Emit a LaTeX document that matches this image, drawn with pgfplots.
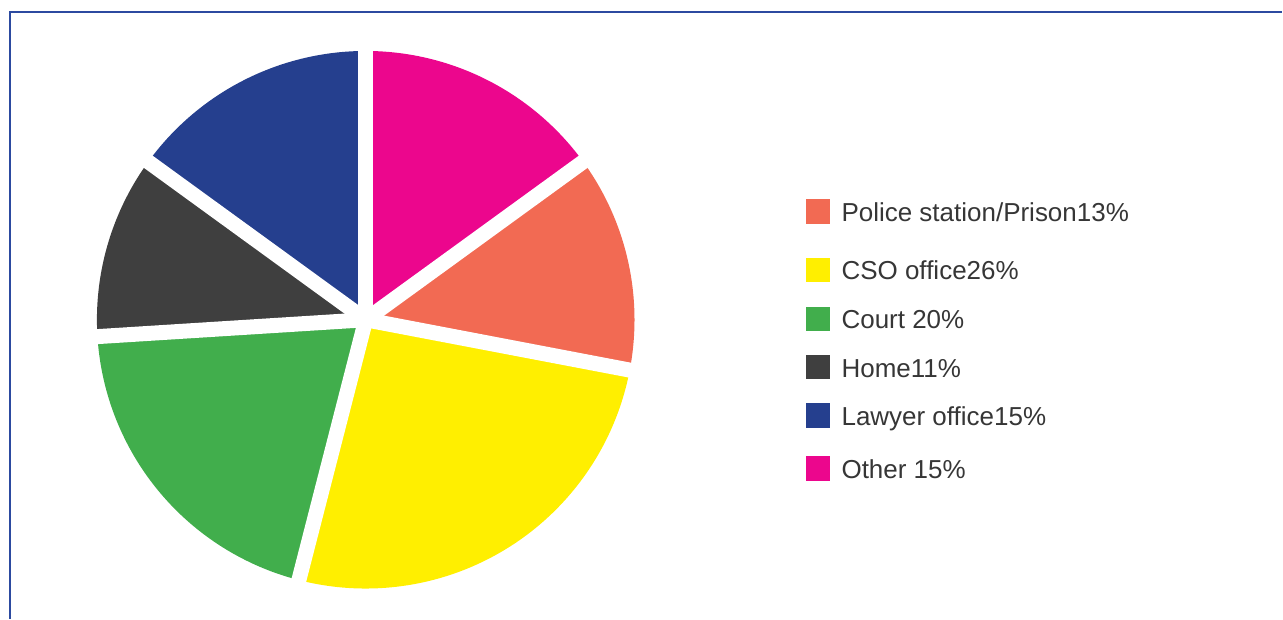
\documentclass[border=0pt]{standalone}
\usepackage{pgfplots}
\pgfplotsset{compat=1.18}
\usepackage{pgfplotstable}
\usepackage{fontspec}
\setmainfont{Liberation Sans}
\definecolor{col0}{HTML}{F26A53}
\definecolor{col1}{HTML}{FFEF00}
\definecolor{col2}{HTML}{41AE4C}
\definecolor{col3}{HTML}{3F3F3F}
\definecolor{col4}{HTML}{253F8E}
\definecolor{col5}{HTML}{EC068D}
\definecolor{bordercol}{HTML}{2C4AA0}
\definecolor{textgray}{HTML}{363636}
\pgfplotstableread{
value
13
26
20
11
15
15
}\piedata
\def\cum{0}%
\pgfplotsforeachungrouped \i in {0,...,5}{%
  \pgfplotstablegetelem{\i}{value}\of\piedata
  \pgfmathsetmacro\sa{36-3.6*\cum}%
  \pgfmathsetmacro\ea{36-3.6*(\cum+\pgfplotsretval)}%
  \expandafter\xdef\csname sa\i\endcsname{\sa}%
  \expandafter\xdef\csname ea\i\endcsname{\ea}%
  \pgfmathsetmacro\cum{\cum+\pgfplotsretval}%
  \xdef\cum{\cum}%
}%
\begin{document}
\begin{tikzpicture}
\begin{axis}[scale only axis, width=1283bp, height=619bp,
  xmin=0, xmax=1283, ymin=0, ymax=619, hide axis, clip=false]
\path (axis cs:0,0) -- (axis cs:1283,619);
\pgfplotsinvokeforeach{0,...,5}{%
  \edef\temp{\noexpand\fill[col#1] (axis cs:366,299) -- plot[domain=\csname sa#1\endcsname:\csname ea#1\endcsname, samples=90, variable=\noexpand\t] (axis cs:{366+269*cos(\noexpand\t)},{299+269*sin(\noexpand\t)}) -- cycle;}\temp
}
\pgfplotsinvokeforeach{0,...,5}{%
  \edef\temp{\noexpand\draw[white, line width=15bp] (axis cs:366,299) -- (axis cs:{366+290*cos(\csname sa#1\endcsname)},{299+290*sin(\csname sa#1\endcsname)});}\temp
}
\draw[bordercol, line width=2bp] (axis cs:10.5,0) -- (axis cs:10.5,607) -- (axis cs:1283,607);
\tikzset{lgbox/.style={minimum size=24.5bp, inner sep=0pt, draw=none, anchor=center},
  lgtext/.style={anchor=base west, inner sep=0pt, text=textgray, font=\fontsize{26bp}{30bp}\selectfont}}
\node[lgbox, fill=col0] at (axis cs:818.5,407.5) {};
\node[lgtext] at (axis cs:842,397.3) {Police station/Prison13\%};
\node[lgbox, fill=col1] at (axis cs:818.5,349) {};
\node[lgtext] at (axis cs:842,338.8) {CSO office26\%};
\node[lgbox, fill=col2] at (axis cs:818.5,300) {};
\node[lgtext] at (axis cs:842,289.8) {Court 20\%};
\node[lgbox, fill=col3] at (axis cs:818.5,251.5) {};
\node[lgtext] at (axis cs:842,241.3) {Home11\%};
\node[lgbox, fill=col4] at (axis cs:818.5,203) {};
\node[lgtext] at (axis cs:842,192.8) {Lawyer office15\%};
\node[lgbox, fill=col5] at (axis cs:818.5,150) {};
\node[lgtext] at (axis cs:842,139.8) {Other 15\%};
\end{axis}
\end{tikzpicture}
\end{document}
